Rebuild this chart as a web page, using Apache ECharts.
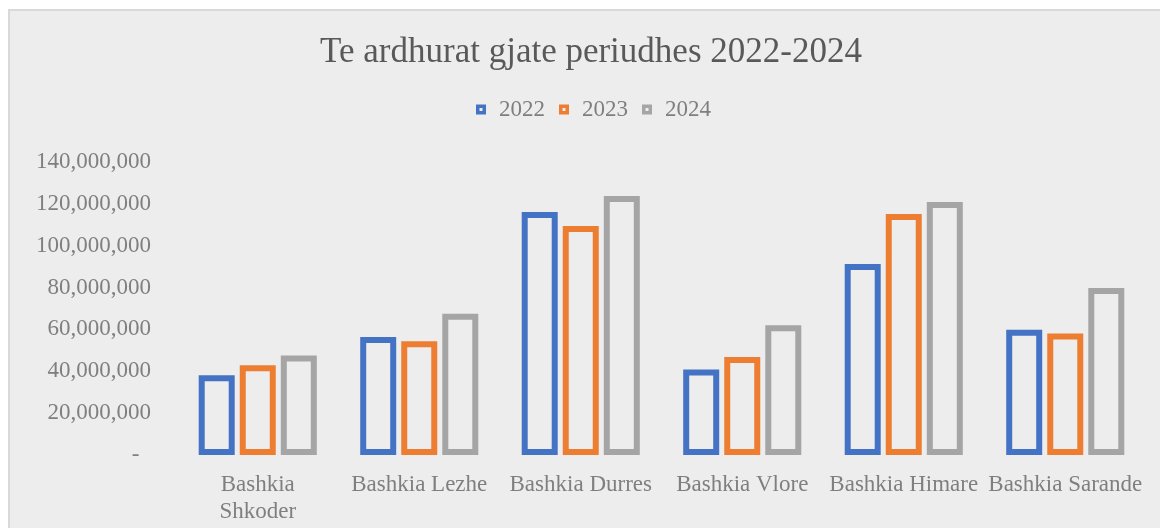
<!DOCTYPE html>
<html>
<head>
<meta charset="utf-8">
<script src="https://cdn.jsdelivr.net/npm/echarts@6/dist/echarts.min.js"></script>
<style>
  html, body { margin: 0; padding: 0; background: #fff; overflow: hidden; }
  #chart {
    position: absolute; left: 8px; top: 9px;
    width: 1150px; height: 517px;
    border-left: 2px solid #d9d9d9; border-top: 2px solid #d9d9d9;
    background: #ededed;
  }
</style>
</head>
<body>
<div id="chart"></div>
<script>
// data
const categories = ['Bashkia Shkoder', 'Bashkia Lezhe', 'Bashkia Durres', 'Bashkia Vlore', 'Bashkia Himare', 'Bashkia Sarande']
const categoryLabels = ['Bashkia\nShkoder', 'Bashkia Lezhe', 'Bashkia Durres', 'Bashkia Vlore', 'Bashkia Himare', 'Bashkia Sarande']
const years = ['2022', '2023', '2024']
const data2022 = [38100000, 56400000, 116100000, 40900000, 91300000, 59900000]
const data2023 = [42900000, 54300000, 109400000, 46800000, 115100000, 58000000]
const data2024 = [47600000, 67500000, 123700000, 62000000, 120900000, 79800000]
const yTicks = [0, 20000000, 40000000, 60000000, 80000000, 100000000, 120000000, 140000000]

const colors = ['#4472C4', '#ED7D31', '#A5A5A5']
const bg = '#ededed'
const font = '"Liberation Serif", "Times New Roman", serif'
const legendIcon = 'path://M0,0H10V10H0Z M3.5,3.5V6.5H6.5V3.5Z'

const chart = echarts.init(document.getElementById('chart'))

function makeSeries(name, values, color) {
  return {
    name: name,
    type: 'bar',
    data: values,
    barWidth: 36,
    barGap: '14%',
    itemStyle: {
      color: bg,
      borderColor: color,
      borderWidth: 6
    }
  }
}

chart.setOption({
  backgroundColor: bg,
  animation: false,
  title: {
    text: 'Te ardhurat gjate periudhes 2022-2024',
    left: 576,
    top: 19,
    textAlign: 'center',
    textStyle: {
      fontFamily: font,
      fontWeight: 'normal',
      fontSize: 35,
      color: '#595959'
    }
  },
  legend: {
    top: 82,
    left: 461,
    itemWidth: 10,
    itemHeight: 10,
    itemGap: 14,
    data: years.map((y, i) => ({ name: y, icon: legendIcon, itemStyle: { color: colors[i], borderWidth: 0 } })),
    textStyle: {
      fontFamily: font,
      fontSize: 23,
      color: '#7f7f7f',
      padding: [0, 0, 0, 8]
    }
  },
  grid: {
    left: 167,
    right: 14,
    top: 151,
    bottom: 73,
    containLabel: false
  },
  xAxis: {
    type: 'category',
    data: categories,
    axisLine: { show: false },
    axisTick: { show: false },
    axisLabel: {
      interval: 0,
      margin: 16,
      lineHeight: 27,
      fontFamily: font,
      fontSize: 23,
      color: '#7f7f7f',
      formatter: (v, i) => categoryLabels[i]
    }
  },
  yAxis: {
    type: 'value',
    min: yTicks[0],
    max: yTicks[yTicks.length - 1],
    interval: yTicks[1] - yTicks[0],
    splitLine: { show: false },
    axisLine: { show: false },
    axisTick: { show: false },
    axisLabel: {
      margin: 26,
      fontFamily: font,
      fontSize: 23,
      color: '#7f7f7f',
      formatter: v => v === 0 ? '-  ' : v.toLocaleString('en-US')
    }
  },
  series: [
    makeSeries(years[0], data2022, colors[0]),
    makeSeries(years[1], data2023, colors[1]),
    makeSeries(years[2], data2024, colors[2])
  ]
})
</script>
</body>
</html>
